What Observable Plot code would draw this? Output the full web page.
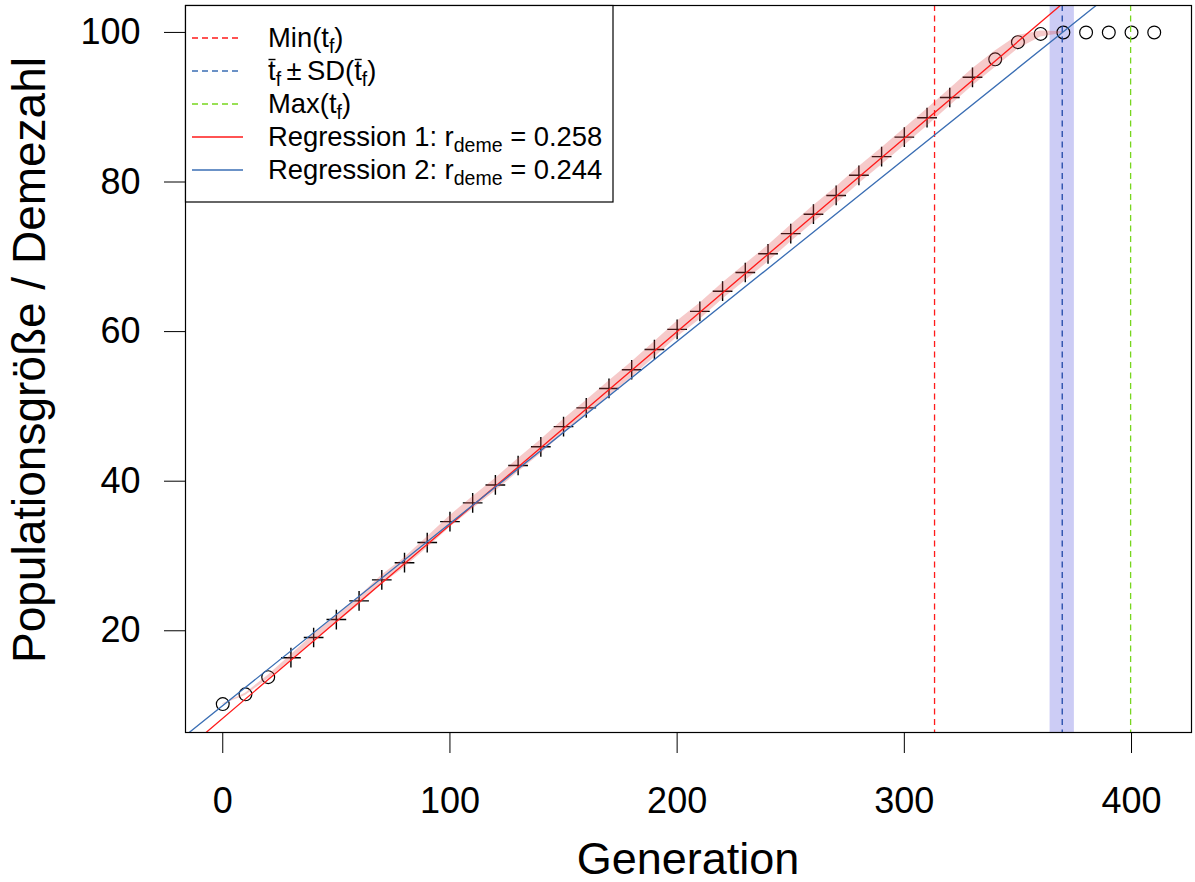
<!DOCTYPE html>
<html><head><meta charset="utf-8">
<script src="https://cdn.jsdelivr.net/npm/d3@7"></script>
<script src="https://cdn.jsdelivr.net/npm/@observablehq/plot@0.6"></script>
<style>body{margin:0;background:#fff;}</style>
</head><body><div id="chart"></div>
<script>
// ---- data ----
const generation = [0,10,20,30,40,50,60,70,80,90,100,110,120,130,140,150,160,170,180,190,200,210,220,230,240,250,260,270,280,290,300,310,320,330,340,350,360,370,380,390,400,410];
const demes = [10.2,11.5,13.8,16.4,19.1,21.5,24.0,26.8,29.1,31.8,34.6,37.1,39.5,42.1,44.6,47.3,49.8,52.4,54.9,57.6,60.3,62.7,65.4,67.9,70.4,73.1,75.7,78.2,80.9,83.4,86.0,88.6,91.3,94.0,96.4,98.7,99.8,100,100,100,100,100];
const marker = ["o","o","o","+","+","+","+","+","+","+","+","+","+","+","+","+","+","+","+","+","+","+","+","+","+","+","+","+","+","+","+","+","+","+","o","o","o","o","o","o","o","o"];
// ribbon (spread of simulations) around the mean curve, generations 0..370
const ribbonGen = [0,10,20,30,40,50,60,70,80,90,100,110,120,130,140,150,160,170,180,190,200,210,220,230,240,250,260,270,280,290,300,310,320,330,340,350,360,370];
const ribbonHalf = [0.05,0.15,0.25,0.35,0.42,0.5,0.56,0.62,0.68,0.73,0.78,0.82,0.86,0.9,0.93,0.96,0.99,1.01,1.03,1.05,1.07,1.08,1.09,1.1,1.11,1.12,1.13,1.13,1.14,1.14,1.15,1.15,1.15,1.15,1.1,0.9,0.4,0.1];
// fixation times
const tMin = 313.3, tMean = 369.5, tSD = 5.35, tMax = 399.6;
// regressions
const regNames = ["Regression 1", "Regression 2"];
const regIntercept = [8.3, 10.0];
const regSlope = [0.2585, 0.2435];
const regRate = ["0.258", "0.244"];
// ticks
const xTicks = [0,100,200,300,400];
const yTicks = [20,40,60,80,100];

// ---- derived tables ----
const xDomain = [-16.4, 426.4], yDomain = [6.4, 103.6];
const pts = generation.map((g,i)=>({g, v: demes[i], m: marker[i]}));
const ribbon = ribbonGen.map((g,i)=>({g, lo: demes[i]-ribbonHalf[i], hi: demes[i]+ribbonHalf[i]}));
const regLines = regNames.flatMap((n,i)=> xDomain.map(x=>({name:n, x, y: regIntercept[i]+regSlope[i]*x})));
const RED = "#FF1A1A", BLUE = "#3A6EB4", GREEN = "#77D61E";

const plot = Plot.plot({
  width:1195, height:882, marginTop:5, marginRight:4, marginBottom:150, marginLeft:185,
  x:{domain:xDomain}, y:{domain:yDomain},
  style:{fontFamily:"'Liberation Sans', Arial, sans-serif", background:"white", color:"black", overflow:"visible"},
  marks:[
    Plot.rect([{a: tMean-tSD, b: tMean+tSD}], {x1:"a", x2:"b", fill:"#0000CC", fillOpacity:0.2}),
    Plot.dot(pts.filter(d=>d.m==="o"), {x:"g", y:"v", r:6.4, stroke:"black", strokeWidth:1.2}),
    Plot.dot(pts.filter(d=>d.m==="+"), {x:"g", y:"v", symbol:"plus", r:6.4, stroke:"black", strokeWidth:1.4}),
    Plot.areaY(ribbon, {x:"g", y1:"lo", y2:"hi", fill:"#E05050", fillOpacity:0.3}),
    Plot.ruleX([tMin], {stroke:RED, strokeDasharray:"6,4.5", strokeWidth:1.3}),
    Plot.ruleX([tMean], {stroke:"#1F48A8", strokeDasharray:"6,4.5", strokeWidth:1.3}),
    Plot.ruleX([tMax], {stroke:GREEN, strokeDasharray:"6,4.5", strokeWidth:1.3}),
    Plot.line(regLines.filter(d=>d.name===regNames[0]), {x:"x", y:"y", stroke:RED, strokeWidth:1.3, clip:true}),
    Plot.line(regLines.filter(d=>d.name===regNames[1]), {x:"x", y:"y", stroke:BLUE, strokeWidth:1.3, clip:true}),
    Plot.frame({stroke:"black", strokeWidth:1.2}),
    Plot.axisX({ticks:xTicks, tickSize:21, tickPadding:34, fontSize:36, label:null, tickFormat:d=>String(d)}),
    Plot.axisY({ticks:yTicks, tickSize:21, tickPadding:24, fontSize:36, label:null, tickFormat:d=>String(d)})
  ]
});
document.getElementById("chart").appendChild(plot);

const svg = d3.select(plot);
svg.append("text").attr("x",688).attr("y",874).attr("text-anchor","middle")
  .attr("font-size",45).attr("fill","black").text("Generation");
svg.append("text").attr("transform","translate(45,360) rotate(-90)").attr("text-anchor","middle")
  .attr("font-size",46).attr("fill","black").text("Populationsgröße / Demezahl");

// ---- legend ----
const lg = svg.append("g").attr("font-size",27.4).attr("fill","black").attr("text-anchor","start");
lg.append("rect").attr("x",185.5).attr("y",5.5).attr("width",427.5).attr("height",196.5)
  .attr("fill","white").attr("stroke","black").attr("stroke-width",1.2);
const legendRows = [
  {color:RED, dash:"6,4", parts:[{t:"Min("},{t:"t"},{t:"f",sub:1},{t:")"}]},
  {color:BLUE, dash:"6,4", parts:[{t:"t",bar:1},{t:"f",sub:1},{t:"\u2009±\u2009SD("},{t:"t",bar:1},{t:"f",sub:1},{t:")"}]},
  {color:GREEN, dash:"6,4", parts:[{t:"Max("},{t:"t"},{t:"f",sub:1},{t:")"}]},
  {color:RED, dash:null, parts:[{t:regNames[0]+": r"},{t:"deme",sub:1},{t:" = "+regRate[0]}]},
  {color:BLUE, dash:null, parts:[{t:regNames[1]+": r"},{t:"deme",sub:1},{t:" = "+regRate[1]}]}
];
legendRows.forEach((row,i)=>{
  const ly = 38 + 33*i;
  lg.append("line").attr("x1",192).attr("x2",row.dash?238:243).attr("y1",ly).attr("y2",ly)
    .attr("stroke",row.color).attr("stroke-width",1.3).attr("stroke-dasharray",row.dash);
  const base = ly + 9;
  const txt = lg.append("text").attr("x",268).attr("y",base).attr("text-anchor","start");
  let prevSub = false;
  const bars = [];
  row.parts.forEach(p=>{
    const ts = txt.append("tspan").text(p.t);
    if (p.sub) ts.attr("font-size",19.5);
    if (p.sub && !prevSub) ts.attr("dy",6);
    else if (!p.sub && prevSub) ts.attr("dy",-6);
    prevSub = !!p.sub;
    if (p.bar) bars.push(ts.node());
  });
  bars.forEach(n=>{
    const bb = n.getBBox();
    lg.append("line").attr("x1",bb.x+0.5).attr("x2",bb.x+bb.width-0.5).attr("y1",base-20.5).attr("y2",base-20.5)
      .attr("stroke","black").attr("stroke-width",1.4);
  });
});
</script></body></html>
